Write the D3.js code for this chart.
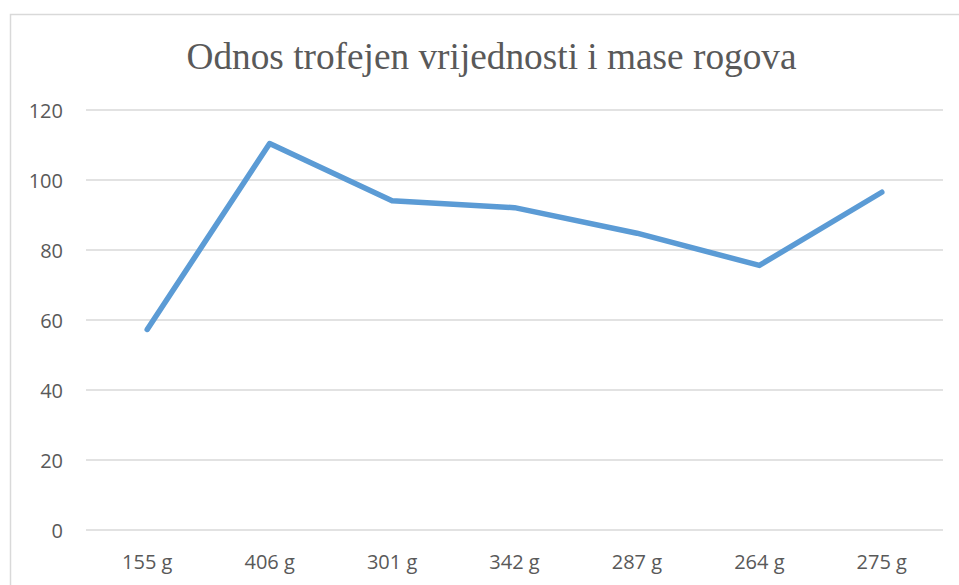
<!DOCTYPE html>
<html>
<head>
<meta charset="utf-8">
<script src="https://cdn.jsdelivr.net/npm/d3@7"></script>
<style>
  html, body { margin: 0; padding: 0; background: #fff; overflow: hidden; }
</style>
</head>
<body>
<div id="chart"></div>
<script>
// podaci --------------------------------------------------------------
const title = 'Odnos trofejen vrijednosti i mase rogova';
const categories = ['155 g', '406 g', '301 g', '342 g', '287 g', '264 g', '275 g'];
const values = [57.3, 110.4, 94.1, 92.1, 84.8, 75.6, 96.5];
const yTicks = [0, 20, 40, 60, 80, 100, 120];

// dimenzije -----------------------------------------------------------
const width = 959;
const height = 585;
const plot = {left: 86, right: 943, top: 110, bottom: 530};

const svg = d3.select('#chart').append('svg')
  .attr('width', width)
  .attr('height', height);

// okvir grafikona
svg.append('rect')
  .attr('x', 10.5)
  .attr('y', 14.5)
  .attr('width', 964)
  .attr('height', 600)
  .attr('fill', '#fff')
  .attr('stroke', '#d9d9d9')
  .attr('stroke-width', 1.5);

// skale ---------------------------------------------------------------
const x = d3.scaleBand()
  .domain(categories)
  .range([plot.left, plot.right]);
const y = d3.scaleLinear()
  .domain([0, 120])
  .range([plot.bottom, plot.top]);

// mreža
svg.append('g')
  .selectAll('line')
  .data(yTicks)
  .enter()
  .append('line')
  .attr('x1', plot.left)
  .attr('x2', plot.right)
  .attr('y1', d => y(d))
  .attr('y2', d => y(d))
  .attr('stroke', '#d9d9d9')
  .attr('stroke-width', 1.5);

// y os
const yAxis = svg.append('g')
  .attr('transform', 'translate(' + (plot.left - 23) + ',0)')
  .call(d3.axisLeft(y).tickValues(yTicks).tickSize(0).tickPadding(0));
yAxis.select('.domain').remove();
yAxis.selectAll('text')
  .attr('font-family', '"Open Sans", sans-serif')
  .attr('font-size', '20px')
  .attr('fill', '#595959')
  .attr('dy', '0.36em');

// x os
const xAxis = svg.append('g')
  .attr('transform', 'translate(0,' + plot.bottom + ')')
  .call(d3.axisBottom(x).tickSize(0).tickPadding(0));
xAxis.select('.domain').remove();
xAxis.selectAll('text')
  .attr('font-family', '"Open Sans", sans-serif')
  .attr('font-size', '20px')
  .attr('fill', '#595959')
  .attr('dy', null)
  .attr('y', 39);

// linija --------------------------------------------------------------
const line = d3.line()
  .x((d, i) => x(categories[i]) + x.bandwidth() / 2)
  .y(d => y(d));
svg.append('path')
  .datum(values)
  .attr('d', line)
  .attr('fill', 'none')
  .attr('stroke', '#5b9bd5')
  .attr('stroke-width', 5.5)
  .attr('stroke-linecap', 'round')
  .attr('stroke-linejoin', 'round');

// naslov
svg.append('text')
  .attr('x', 491.5)
  .attr('y', 69)
  .attr('text-anchor', 'middle')
  .attr('font-family', '"Liberation Serif", "Times New Roman", serif')
  .attr('font-size', '37.3px')
  .attr('fill', '#595959')
  .text(title);
</script>
</body>
</html>
